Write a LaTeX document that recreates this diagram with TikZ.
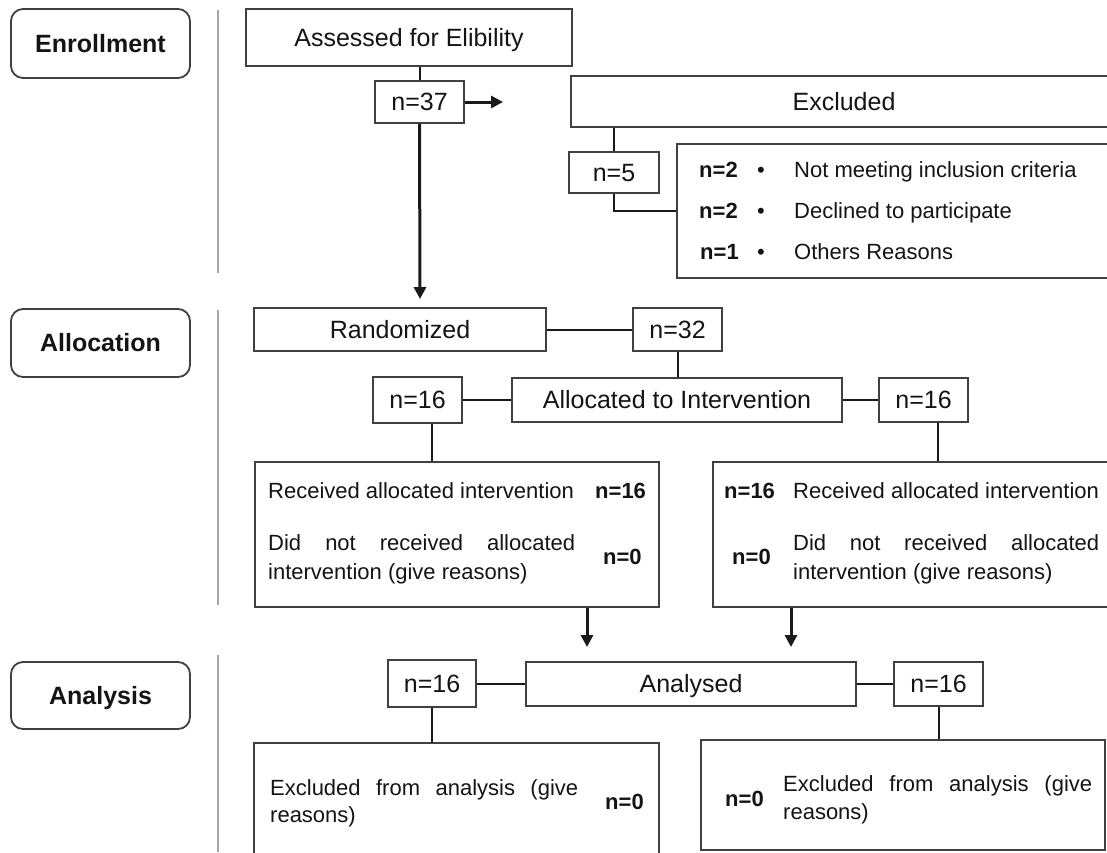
\documentclass[tikz,border=0pt]{standalone}
\usepackage{fontspec}
\setmainfont{Liberation Sans}
\usetikzlibrary{arrows.meta}
\definecolor{boxc}{HTML}{404040}
\definecolor{linec}{HTML}{1A1A1A}
\definecolor{sepc}{HTML}{A6A6A6}
\definecolor{txtc}{HTML}{141414}
\tikzset{
 box/.style={draw=boxc, line width=1.8pt, inner sep=0pt, fill=white, text=txtc,
   font=\fontsize{25}{30}\selectfont, text height=17.9pt, text depth=0pt},
 stage/.style={box, rounded corners=12pt, font=\fontsize{25}{30}\selectfont\bfseries, minimum width=179pt},
 txt/.style={inner sep=0pt, anchor=west, text=txtc, font=\fontsize{22}{26}\selectfont, text height=15.75pt, text depth=0pt},
 btxt/.style={txt, font=\fontsize{22}{26}\selectfont\bfseries},
 bul/.style={txt, anchor=center},
 conn/.style={draw=linec, line width=2pt},
 arr/.style={draw=linec, line width=3pt, -{Triangle[length=12pt,width=12pt]}},
 sep/.style={draw=sepc, line width=1.5pt},
}
\begin{document}
\begin{tikzpicture}[x=1pt,y=-1pt]
\useasboundingbox (0,0) rectangle (1107,852);
\fill[white] (0,0) rectangle (1107,852);

% stage labels
\node[stage, minimum height=69pt] (enr) at (100.5,43.5) {Enrollment};
\node[stage, minimum height=68pt] (alc) at (100.5,343) {Allocation};
\node[stage, minimum height=67pt] (ana) at (100.5,695.5) {Analysis};

% separators
\coordinate (s1a) at (218,10);  \coordinate (s1b) at (218,273);
\coordinate (s2a) at (218,310); \coordinate (s2b) at (218,605);
\coordinate (s3a) at (218,655); \coordinate (s3b) at (218,852);
\draw[sep] (s1a) -- (s1b);
\draw[sep] (s2a) -- (s2b);
\draw[sep] (s3a) -- (s3b);

% enrollment
\node[box, minimum width=326pt, minimum height=57pt] (ass) at (409,37.5) {Assessed for Elibility};
\node[box, minimum width=89pt, minimum height=42pt] (n37) at (419.5,102) {n=37};
\node[box, minimum width=546pt, minimum height=51pt] (exc) at (844,101.5) {Excluded};
\node[box, minimum width=90pt, minimum height=41pt] (n5) at (614,172.5) {n=5};
\node[box, minimum width=443pt, minimum height=134pt] (rea) at (898.5,211) {};

\node[btxt] (r1n) at (699,170) {n=2};
\node[bul]  (r1b) at (761,170) {•};
\node[txt]  (r1t) at (794,170) {Not meeting inclusion criteria};
\node[btxt] (r2n) at (699,211) {n=2};
\node[bul]  (r2b) at (761,211) {•};
\node[txt]  (r2t) at (794,211) {Declined to participate};
\node[btxt] (r3n) at (700,252) {n=1};
\node[bul]  (r3b) at (761,252) {•};
\node[txt]  (r3t) at (794,252) {Others Reasons};

% allocation
\node[box, minimum width=292pt, minimum height=43pt] (ran) at (400,329.5) {Randomized};
\node[box, minimum width=89pt, minimum height=43pt] (n32) at (677.5,329.5) {n=32};
\node[box, minimum width=89pt, minimum height=46pt] (nl16) at (417.5,400) {n=16};
\node[box, minimum width=330pt, minimum height=44pt] (alt) at (677,400) {Allocated to Intervention};
\node[box, minimum width=89pt, minimum height=44pt] (nr16) at (923.5,400) {n=16};
\node[box, minimum width=404pt, minimum height=145pt] (recl) at (457,534.5) {};
\node[box, minimum width=407pt, minimum height=145pt] (recr) at (916.5,534.5) {};

\node[txt]  (lrt) at (268,491) {Received allocated intervention};
\node[btxt] (lrn) at (595,491) {n=16};
\node[txt]  (ld1) at (268,543) {\makebox[307pt][s]{Did not received allocated}};
\node[txt]  (ld2) at (268,572) {intervention (give reasons)};
\node[btxt] (ldn) at (603,557) {n=0};

\node[btxt] (rrn) at (724,491) {n=16};
\node[txt]  (rrt) at (793,491) {Received allocated intervention};
\node[btxt] (rdn) at (732,557) {n=0};
\node[txt]  (rd1) at (793,543) {\makebox[306pt][s]{Did not received allocated}};
\node[txt]  (rd2) at (793,572) {intervention (give reasons)};

% analysis
\node[box, minimum width=88pt, minimum height=47pt] (al16) at (432,683.5) {n=16};
\node[box, minimum width=330pt, minimum height=44pt] (ans) at (691,684) {Analysed};
\node[box, minimum width=89pt, minimum height=44pt] (ar16) at (938.5,684) {n=16};
\node[box, minimum width=405pt, minimum height=127pt] (exl) at (456.5,806.5) {};
\node[box, minimum width=404pt, minimum height=110pt] (exr) at (903,795) {};

\node[txt]  (el1) at (270,788) {\makebox[308pt][s]{Excluded from analysis (give}};
\node[txt]  (el2) at (270,815) {reasons)};
\node[btxt] (eln) at (605,802) {n=0};
\node[btxt] (ern) at (725,799) {n=0};
\node[txt]  (er1) at (783,784) {\makebox[309pt][s]{Excluded from analysis (give}};
\node[txt]  (er2) at (783,812) {reasons)};

% connectors
\coordinate (a37r) at (503,102);
\coordinate (a37d) at (420,299);
\coordinate (al) at (587,647);
\coordinate (ar) at (791,647);

\draw[conn] (ass.south -| n37.north) -- (n37.north);
\draw[arr] (n37.east) -- (a37r);
\draw[arr] (n37.south) -- (a37d);
\draw[conn] (n5.north |- exc.south) -- (n5.north);
\draw[conn] (n5.south) |- (rea.west);
\draw[conn] (ran.east) -- (n32.west);
\draw[conn] (n32.south) -- (n32.south |- alt.north);
\draw[conn] (nl16.east) -- (nl16.east -| alt.west);
\draw[conn] (alt.east) -- (alt.east -| nr16.west);
\draw[conn] ([xshift=14.5pt]nl16.south) -- ([xshift=14.5pt]nl16.south |- recl.north);
\draw[conn] ([xshift=14.5pt]nr16.south) -- ([xshift=14.5pt]nr16.south |- recr.north);
\draw[arr] (recl.south -| al) -- (al);
\draw[arr] (recr.south -| ar) -- (ar);
\draw[conn] (al16.east) -- (al16.east -| ans.west);
\draw[conn] (ans.east) -- (ans.east -| ar16.west);
\draw[conn] (al16.south) -- (al16.south |- exl.north);
\draw[conn] (ar16.south) -- (ar16.south |- exr.north);
\end{tikzpicture}
\end{document}
